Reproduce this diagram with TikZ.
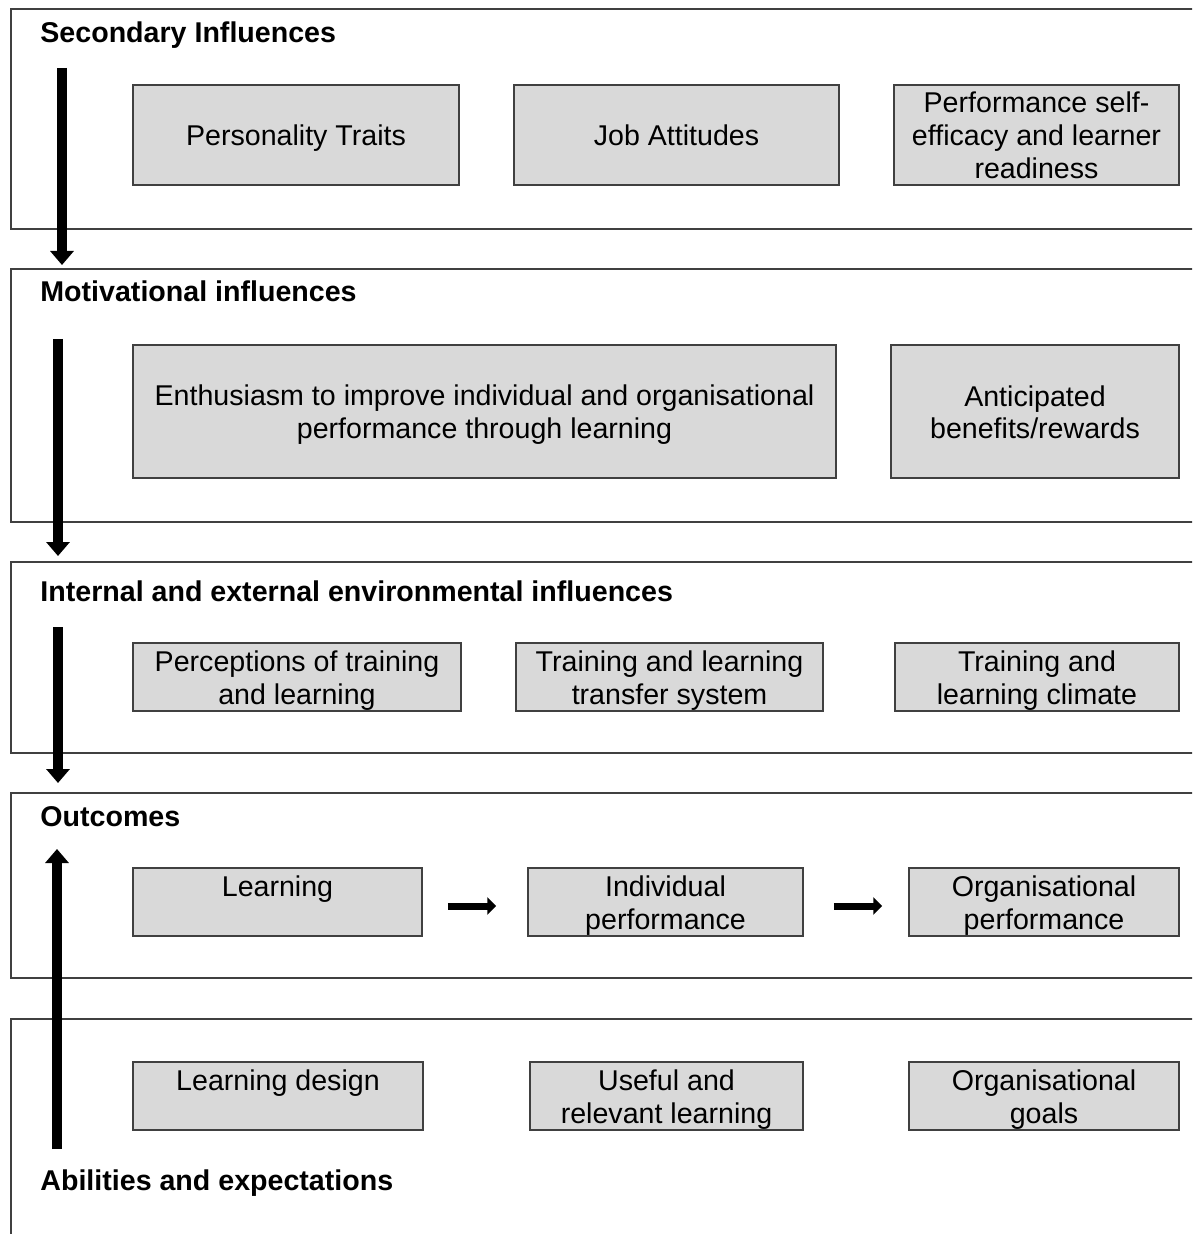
\documentclass[tikz,border=0pt]{standalone}
\usepackage{fontspec}
\setmainfont{Liberation Sans}
\usetikzlibrary{arrows.meta,calc}

% fixed line box used for the first and last line of every box text
\newcommand{\linebox}{\rule[-2.75pt]{0pt}{16.5pt}}

\begin{document}
\begin{tikzpicture}[x=0.5pt,y=-0.5pt,
  panel/.style={draw=black!75,line width=0.75pt},
  heading/.style={anchor=base west,inner sep=0pt,font=\fontsize{14.3}{16.5}\selectfont\bfseries},
  bx/.style={draw=black!75,fill=black!15,line width=0.75pt,inner sep=0pt,
             align=center,font=\fontsize{14.3}{16.5}\selectfont,
             execute at end node={\linebox}},
  flow/.style={line width=5pt,-{Triangle[width=11.5pt,length=7pt]}},
  step arrow/.style={line width=3.5pt,-{Triangle[width=8.5pt,length=4.5pt]}}
]
\useasboundingbox (0,0) rectangle (1192,1234);
\clip (0,0) rectangle (1192,1234);

% Layer frames (they run past the right and bottom edges)
\draw[panel] (11,9) rectangle (1220,229);
\draw[panel] (11,269) rectangle (1220,522);
\draw[panel] (11,562) rectangle (1220,753);
\draw[panel] (11,793) rectangle (1220,978);
\draw[panel] (11,1019) rectangle (1220,1260);

% Layer titles
\node[heading] (h1) at (40,43) {Secondary Influences};
\node[heading] (h2) at (40,302) {Motivational influences};
\node[heading] (h3) at (40,601) {Internal and external environmental influences};
\node[heading] (h4) at (40,826) {Outcomes};
\node[heading] (h5) at (40,1190) {Abilities and expectations};

% Secondary influences
\node[bx,minimum width=163pt,minimum height=50pt] (pers) at (296,135) {\linebox Personality Traits};
\node[bx,minimum width=162.5pt,minimum height=50pt] (job) at (676.5,135) {\linebox Job Attitudes};
\node[bx,minimum width=142.5pt,minimum height=50pt] (perf) at (1036.5,135) {\linebox Performance self-\\efficacy and learner\\readiness};

% Motivational influences
\node[bx,minimum width=351.5pt,minimum height=66.5pt] (enth) at (484.5,411.5) {\linebox Enthusiasm to improve individual and organisational\\performance through learning};
\node[bx,minimum width=144pt,minimum height=66.5pt] (antic) at (1035,411.5) {\linebox Anticipated\\benefits/rewards};

% Environmental influences
\node[bx,minimum width=164pt,minimum height=34pt] (percep) at (297,677) {\linebox Perceptions of training\\and learning};
\node[bx,minimum width=153.5pt,minimum height=34pt] (transfer) at (669.5,677) {\linebox Training and learning\\transfer system};
\node[bx,minimum width=142pt,minimum height=34pt] (climate) at (1037,677) {\linebox Training and\\learning climate};

% Outcomes
\node[bx,minimum width=144.5pt,minimum height=34pt] (learn) at (277.5,902) {\linebox Learning\\};
\node[bx,minimum width=137.5pt,minimum height=34pt] (indiv) at (665.5,902) {\linebox Individual\\performance};
\node[bx,minimum width=135pt,minimum height=34pt] (orgperf) at (1044,902) {\linebox Organisational\\performance};

% Abilities and expectations
\node[bx,minimum width=145pt,minimum height=34pt] (design) at (278,1096) {\linebox Learning design\\};
\node[bx,minimum width=136.5pt,minimum height=34pt] (useful) at (666.5,1096) {\linebox Useful and\\relevant learning};
\node[bx,minimum width=135pt,minimum height=34pt] (goals) at (1044,1096) {\linebox Organisational\\goals};

% Outcome chain
\draw[step arrow] ($(learn.east)+(25,4)$) -- ($(indiv.west)+(-31,4)$);
\draw[step arrow] ($(indiv.east)+(30,4)$) -- ($(orgperf.west)+(-26,4)$);

% Arrows between layers
\coordinate (s1) at (62,68);   \coordinate (e1) at (62,265);
\coordinate (s2) at (58,339);  \coordinate (e2) at (58,556);
\coordinate (s3) at (58,627);  \coordinate (e3) at (58,783);
\coordinate (s4) at (57,1149); \coordinate (e4) at (57,849);
\draw[flow] (s1) -- (e1);
\draw[flow] (s2) -- (e2);
\draw[flow] (s3) -- (e3);
\draw[flow] (s4) -- (e4);
\end{tikzpicture}
\end{document}
